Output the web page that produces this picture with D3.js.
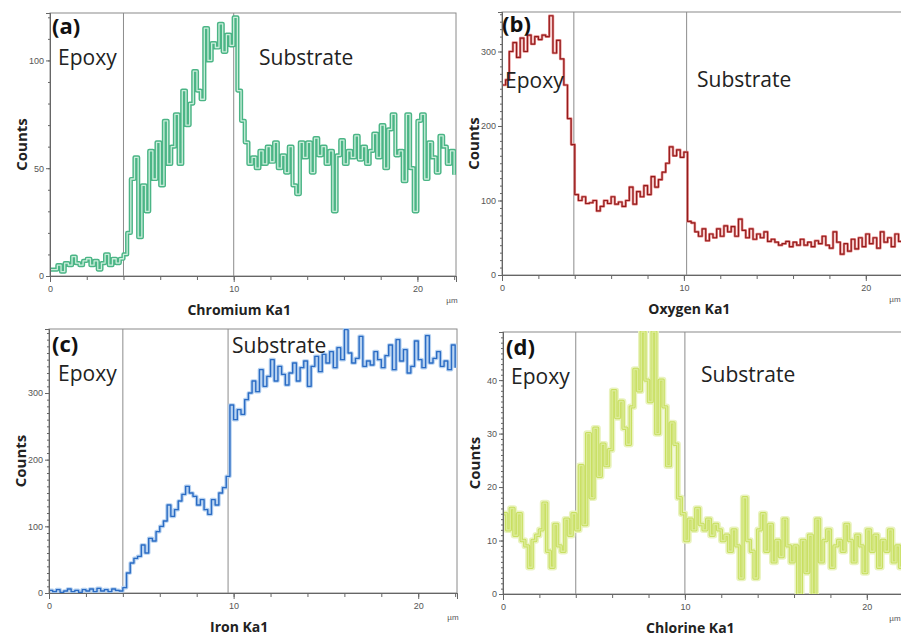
<!DOCTYPE html>
<html>
<head>
<script src="https://d3js.org/d3.v7.min.js"></script>
<style>
  body {margin: 0; background: #fff;}
  svg {display: block; font-family: "Open Sans", Arial, sans-serif;}
  .tick text {fill: #555; font-size: 9px; font-family: Arial, "Liberation Sans", sans-serif;}
  .domain, .tick line {stroke: #666;}
</style>
</head>
<body>
<svg width="901" height="637"></svg>
<script>
// line scan, one point every 0.2 µm from 0 to 22 µm
const scanStep = 0.2;

const chromium = [3,3,5,2,6,5,9,6,5,7,8,5,7,3,6,10,5,8,6,8,
  10,20,45,55,18,42,30,58,45,62,42,72,52,60,75,52,86,70,80,95,
  86,82,115,100,108,106,117,104,112,107,120,86,72,62,52,55,50,58,52,60,
  53,62,50,56,48,60,42,38,62,55,62,48,64,56,60,52,58,30,56,63,
  52,58,55,65,54,60,52,58,66,55,70,50,68,75,56,58,44,75,50,30,
  72,75,45,62,55,48,65,60,52,58,47];

const oxygen = [255,262,300,312,292,318,300,322,310,320,316,322,320,348,298,315,290,255,210,175,
  108,100,105,96,97,100,86,92,100,96,105,95,98,92,100,118,95,112,105,120,
  108,132,118,128,138,150,172,160,168,158,165,72,70,58,52,62,46,55,50,62,
  52,66,58,65,52,75,60,50,62,48,55,50,58,45,48,44,40,42,45,38,
  44,40,48,40,44,38,46,42,52,40,36,58,44,28,42,32,48,35,50,38,
  55,42,50,36,58,44,50,38,55,45,43];

const iron = [4,2,5,1,3,6,2,4,1,5,3,6,2,7,3,5,2,6,4,3,
  8,30,45,52,55,72,60,82,78,92,100,108,132,115,125,138,148,160,150,145,
  132,140,125,118,140,132,150,158,175,282,260,275,268,290,300,318,302,335,310,325,
  350,318,340,328,312,330,345,318,338,348,310,340,355,332,358,345,362,338,368,350,
  395,360,345,352,385,340,348,342,362,350,338,356,372,335,380,348,365,330,340,378,
  350,338,386,345,352,362,340,348,335,372,338];

const chlorine = [15,12,16,11,15,10,9,5,10,11,12,17,8,5,13,9,8,14,11,15,
  12,24,13,30,18,31,22,28,24,27,38,33,36,31,28,35,42,38,49,40,
  36,49,30,40,35,24,32,28,18,15,10,14,12,16,13,12,14,11,13,12,
  10,11,8,12,9,3,18,10,8,3,12,15,8,13,6,10,7,14,9,6,
  9,0,10,4,11,0,14,6,10,12,5,9,10,8,13,10,6,11,9,4,
  12,8,11,5,10,8,12,6,9,5,6];

// element names, y-axis ranges and the epoxy / substrate interface positions (µm)
const elements = ["Chromium Ka1", "Oxygen Ka1", "Iron Ka1", "Chlorine Ka1"];
const panelTags = ["(a)", "(b)", "(c)", "(d)"];
const series = [chromium, oxygen, iron, chlorine];
const yMaxes = [122, 353, 396, 49];
const yMajorTicks = [[0, 50, 100], [0, 100, 200, 300], [0, 100, 200, 300], [0, 10, 20, 30, 40]];
const yMinorStep = [10, 10, 10, 1];
const interfaces = [[4.0, 10.0], [3.95, 10.15], [4.0, 9.7], [4.0, 10.0]];
const xMax = 22.1;

// layout of the four panels (plot box in page pixels)
const layout = [
  {l: 50, t: 13, r: 456, b: 276, epoxy: [58, 58], substrate: [259, 58], tag: [52, 34]},
  {l: 502, t: 12, r: 904, b: 275, epoxy: [505, 81], substrate: [697, 80], tag: [502, 32]},
  {l: 49, t: 329, r: 457, b: 593, epoxy: [58, 374], substrate: [232, 346], tag: [52, 352]},
  {l: 503, t: 332, r: 905, b: 594, epoxy: [511, 377], substrate: [701, 375], tag: [506, 355]}
];

const styles = [
  [{c: "#4bb586", w: 4.2}, {c: "#cbeedb", w: 1.3}],
  [{c: "#e58a8a", w: 2.6}, {c: "#941c1c", w: 1.2}],
  [{c: "#b4d0f0", w: 3.6}, {c: "#2b6cc4", w: 1.4}],
  [{c: "#eaf3c0", w: 6.5}, {c: "#c8df60", w: 3.4}, {c: "#dcec98", w: 1.4}]
];

const svg = d3.select("svg");

layout.forEach((p, i) => {
  const g = svg.append("g");
  const x = d3.scaleLinear().domain([0, xMax]).range([p.l, p.r]);
  const y = d3.scaleLinear().domain([0, yMaxes[i]]).range([p.b, p.t]);

  g.append("clipPath").attr("id", "clip" + i)
    .append("rect").attr("x", p.l).attr("y", p.t - 1)
    .attr("width", p.r - p.l).attr("height", p.b - p.t + 1);

  // frame
  g.append("rect").attr("x", p.l).attr("y", p.t)
    .attr("width", p.r - p.l).attr("height", p.b - p.t)
    .attr("fill", "none").attr("stroke", "#8a8a8a");

  // interface lines
  g.selectAll(".iface").data(interfaces[i]).enter().append("line")
    .attr("x1", d => x(d)).attr("x2", d => x(d))
    .attr("y1", p.t).attr("y2", p.b)
    .attr("stroke", "#8c8c8c").attr("stroke-width", 1);

  const pts = series[i].map((v, k) => [k * scanStep, v]);
  const line = d3.line().x(d => x(d[0])).y(d => y(d[1])).curve(d3.curveStepAfter);

  const plot = g.append("g").attr("clip-path", "url(#clip" + i + ")");
  styles[i].forEach(s => {
    plot.append("path").datum(pts)
      .attr("d", line).attr("fill", "none")
      .attr("stroke", s.c).attr("stroke-width", s.w)
      .attr("stroke-linejoin", "round");
  });

  // axes
  g.append("g").attr("transform", `translate(${p.l},0)`)
    .call(d3.axisLeft(y).tickValues(d3.range(0, yMaxes[i], yMinorStep[i])).tickSize(2).tickFormat(""));
  g.append("g").attr("transform", `translate(${p.l},0)`)
    .call(d3.axisLeft(y).tickValues(yMajorTicks[i]).tickSize(4).tickPadding(2));
  g.append("g").attr("transform", `translate(0,${p.b})`)
    .call(d3.axisBottom(x).tickValues(d3.range(2, xMax, 2)).tickSize(4).tickFormat(""));
  g.append("g").attr("transform", `translate(0,${p.b})`)
    .call(d3.axisBottom(x).tickValues([0, 10, 20]).tickSize(6).tickPadding(4));

  g.append("text").attr("x", Math.min(p.r, 899) - 4).attr("y", p.b + 27)
    .attr("text-anchor", "middle").attr("font-size", 8).attr("fill", "#555")
    .attr("font-family", "Arial, sans-serif").text("µm");

  // titles
  g.append("text").attr("x", x(10.3)).attr("y", p.b + 39)
    .attr("text-anchor", "middle").attr("font-size", 14).attr("font-weight", "bold")
    .attr("fill", "#222").text(elements[i]);
  g.append("text")
    .attr("transform", `translate(${p.l - 23},${(p.t + p.b) / 2}) rotate(-90)`)
    .attr("text-anchor", "middle").attr("font-size", 15).attr("font-weight", "bold")
    .attr("fill", "#222").text("Counts");

  g.append("text").attr("x", p.tag[0]).attr("y", p.tag[1])
    .attr("font-size", 22).attr("font-weight", "bold").attr("fill", "#111").text(panelTags[i]);
  g.append("text").attr("x", p.epoxy[0]).attr("y", p.epoxy[1]).attr("dy", "0.35em")
    .attr("font-size", 21).attr("fill", "#222").text("Epoxy");
  g.append("text").attr("x", p.substrate[0]).attr("y", p.substrate[1]).attr("dy", "0.35em")
    .attr("font-size", 21).attr("fill", "#222").text("Substrate");
});
</script>
</body>
</html>
